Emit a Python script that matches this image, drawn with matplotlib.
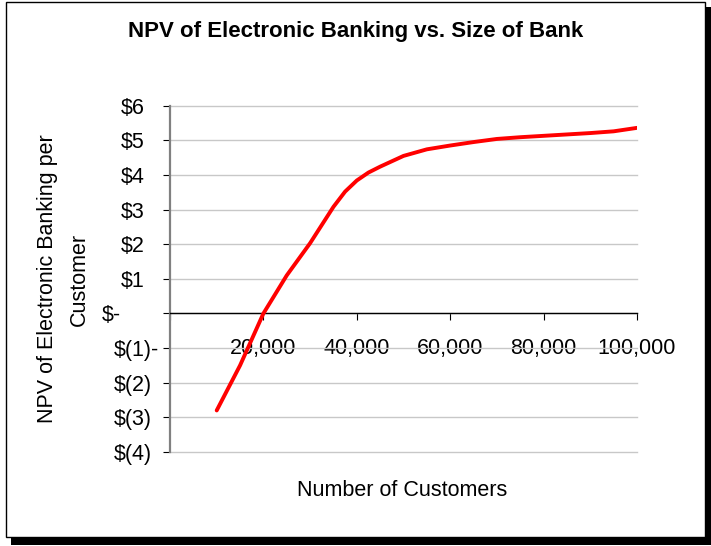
import matplotlib
matplotlib.use("Agg")
import matplotlib.pyplot as plt
from matplotlib.patches import Rectangle

plt.rcParams['font.family'] = ['Liberation Sans', 'DejaVu Sans']

# Data: bank size (customers) vs NPV per customer ($)
customers = [10000, 15000, 20000, 25000, 30000, 35000, 37500, 40000, 42500,
             45000, 50000, 55000, 60000, 65000, 70000, 75000, 80000, 85000,
             90000, 95000, 100000]
npv_per_customer = [-2.80, -1.50, 0.00, 1.10, 2.03, 3.08, 3.52, 3.84, 4.07,
                    4.24, 4.55, 4.74, 4.85, 4.95, 5.04, 5.09, 5.13, 5.17,
                    5.21, 5.26, 5.36]

x_ticks = [0, 20000, 40000, 60000, 80000, 100000]
x_tick_labels = ["", "20,000", "40,000", "60,000", "80,000", "100,000"]
y_ticks = [6, 5, 4, 3, 2, 1, 0, -1, -2, -3, -4]
y_tick_labels = ["$6", "$5", "$4", "$3", "$2", "$1", "$-", "$(1)-", "$(2)",
                 "$(3)", "$(4)"]

title = "NPV of Electronic Banking vs. Size of Bank"
x_title = "Number of Customers"
y_title = "NPV of Electronic Banking per\nCustomer"

W, H, DPI = 711, 546, 100
fig = plt.figure(figsize=(W / DPI, H / DPI), dpi=DPI)
fig.patch.set_facecolor("white")

# chart frame with drop shadow, kept behind the axes
fig.patches.append(Rectangle((11 / W, 1 - 545 / H), 700 / W, 538 / H,
                             transform=fig.transFigure, facecolor="black",
                             edgecolor="none", zorder=-3))
fig.patches.append(Rectangle((6 / W, 1 - 537 / H), 699 / W, 535 / H,
                             transform=fig.transFigure, facecolor="white",
                             edgecolor="black", linewidth=1.0, zorder=-2))

left, right, top, bottom = 170, 637, 105.7, 452
ax = fig.add_axes([left / W, 1 - bottom / H, (right - left) / W, (bottom - top) / H])
ax.set_facecolor("none")

ax.plot(customers, npv_per_customer, color="#ff0000", linewidth=2.8,
        solid_joinstyle="round", solid_capstyle="round", zorder=4)

ax.set_xlim(0, 100000)
ax.set_ylim(-4, 6)

ax.spines["top"].set_visible(False)
ax.spines["right"].set_visible(False)
ax.spines["bottom"].set_position(("data", 0))
ax.spines["bottom"].set_color("black")
ax.spines["bottom"].set_linewidth(1.0)
ax.spines["left"].set_color("#808080")
ax.spines["left"].set_linewidth(1.6)

ax.yaxis.grid(True, color="#c8c8c8", linewidth=1.0)
ax.set_axisbelow(True)

FS = 15.5
ax.set_xticks(x_ticks, x_tick_labels)
ax.tick_params(axis="x", direction="out", length=5, width=0.8, color="black",
               pad=12.5, labelsize=FS)
ax.set_yticks(y_ticks, [""] * len(y_ticks))
ax.tick_params(axis="y", direction="out", length=5, width=0.8, color="black")
for gl in ax.get_ygridlines():
    gl.set_clip_on(False)


def trailing_em(label):
    """Accounting-format padding after the last glyph, in em."""
    if label.endswith(")"):
        return 0.0
    if label == "$-":
        return 0.333 + 2 * 0.556
    if ")" in label:
        return -0.333
    return 0.333


base_pt = 18 * 72 / DPI
for val, lab in zip(y_ticks, y_tick_labels):
    ax.annotate(lab, xy=(0, val), xycoords=ax.get_yaxis_transform(),
                xytext=(-(base_pt + trailing_em(lab) * FS), 0),
                textcoords="offset points", ha="right", va="center_baseline",
                fontsize=FS, annotation_clip=False)

fig.text(0.5, 1 - 32 / H, title, ha="center", va="center", fontsize=16,
         fontweight="bold")
fig.text(402.5 / W, 1 - 491 / H, x_title, ha="center", va="center", fontsize=FS)
fig.text(63.5 / W, 1 - 279 / H, y_title, ha="center", va="center", fontsize=FS,
         rotation=90, multialignment="center", linespacing=1.65)

fig.savefig("out.png", dpi=DPI, facecolor="white")
